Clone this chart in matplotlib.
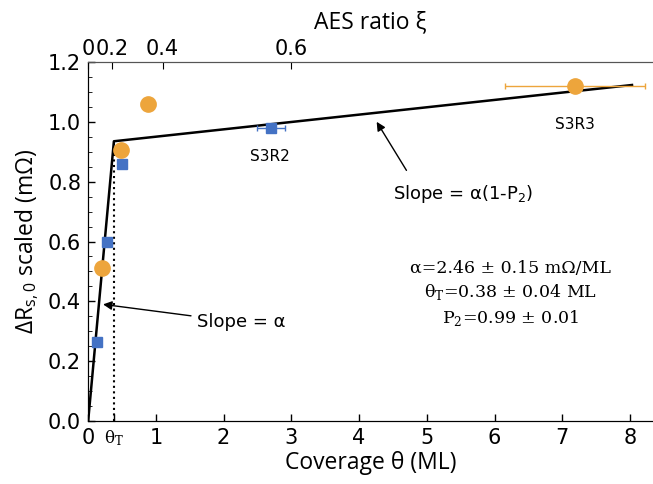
import matplotlib.pyplot as plt

# data
sq_theta = [0.13, 0.28, 0.50, 2.70]
sq_r = [0.265, 0.60, 0.86, 0.98]
sq_xerr = [0.0, 0.0, 0.0, 0.2]

ci_theta = [0.20, 0.48, 0.88, 7.19]
ci_r = [0.51, 0.905, 1.06, 1.12]
ci_xerr = [0.0, 0.0, 0.1, 1.03]

fit_theta = [0.0, 0.38, 8.03]
fit_r = [0.0, 0.935, 1.123]
theta_T = 0.38

xi_pos = [0.0, 0.35, 1.1, 3.0]
xi_labels = ["0", "0.2", "0.4", "0.6"]

blue = "#4472C4"
orange = "#EDA53C"

fig = plt.figure(figsize=(6.53, 4.84), dpi=100)
ax = fig.add_axes([0.135, 0.13, 0.865, 0.742])

ax.plot(fit_theta, fit_r, color="black", lw=1.8, zorder=2)
ax.plot([theta_T, theta_T], [0, fit_r[1]], color="black", ls=":", lw=1.5, zorder=2)

ax.errorbar(sq_theta, sq_r, xerr=sq_xerr, fmt="s", color=blue, ms=7,
            elinewidth=1, capsize=2, zorder=3)
ax.errorbar(ci_theta, ci_r, xerr=ci_xerr, fmt="o", color=orange, ms=11,
            elinewidth=1, capsize=2, zorder=3)

ax.set_xlim(0, 8.34)
ax.set_ylim(0, 1.2)
ax.set_xticks([0, theta_T, 1, 2, 3, 4, 5, 6, 7, 8])
ax.set_xticklabels(["0", "", "1", "2", "3", "4", "5", "6", "7", "8"])
ax.text(theta_T, -0.025, r"$\mathregular{\theta_T}$", ha="center", va="top",
        fontsize=12, family="DejaVu Serif")
ax.set_yticks([0, 0.2, 0.4, 0.6, 0.8, 1.0, 1.2])
ax.set_yticklabels(["0.0", "0.2", "0.4", "0.6", "0.8", "1.0", "1.2"])
ax.set_yticks([i * 0.05 for i in range(25)], minor=True)
ax.tick_params(direction="in", labelsize=15, length=5, width=1, pad=5)
ax.tick_params(axis="y", which="minor", direction="in", length=3)
ax.tick_params(axis="x", which="major", top=False)
ax.spines["right"].set_visible(False)
ax.spines["top"].set_color("#555555")

ax.set_xlabel("Coverage θ (ML)", fontsize=16.5, family="Open Sans", labelpad=2)
ax.set_ylabel(r"ΔR$_{\mathregular{s,0}}$ scaled (mΩ)", fontsize=16.5,
              family="Open Sans", labelpad=5)

ax2 = ax.twiny()
ax2.set_xlim(ax.get_xlim())
ax2.set_xticks(xi_pos)
ax2.set_xticklabels(xi_labels)
ax2.tick_params(direction="in", labelsize=15, length=5, pad=2)
ax2.spines["right"].set_visible(False)
ax2.spines["top"].set_color("#555555")
ax2.set_xlabel("AES ratio ξ", fontsize=16.5, family="Open Sans", labelpad=8)

ax.annotate("Slope = α", xy=(0.22, 0.39), xytext=(1.6, 0.33),
            fontsize=13, va="center", ha="left",
            arrowprops=dict(arrowstyle="-|>", color="black", lw=1, shrinkA=2, shrinkB=0))
ax.annotate(r"Slope = α(1-P$_{\mathregular{2}}$)", xy=(4.26, 1.0), xytext=(4.5, 0.76),
            fontsize=13, va="center", ha="left",
            arrowprops=dict(arrowstyle="-|>", color="black", lw=1, shrinkA=8, shrinkB=0,
                            relpos=(0.15, 1.0)))

ax.text(2.69, 0.885, "S3R2", fontsize=11, ha="center", va="center")
ax.text(7.19, 0.99, "S3R3", fontsize=11, ha="center", va="center")

params = ("α=2.46 ± 0.15 mΩ/ML\n"
          r"θ$_{\mathregular{T}}$=0.38 ± 0.04 ML" "\n"
          r"P$_{\mathregular{2}}$=0.99 ± 0.01")
ax.text(6.23, 0.425, params, fontsize=12.5, family="DejaVu Serif",
        ha="center", va="center", linespacing=1.35)

fig.savefig("out.png", dpi=100)
